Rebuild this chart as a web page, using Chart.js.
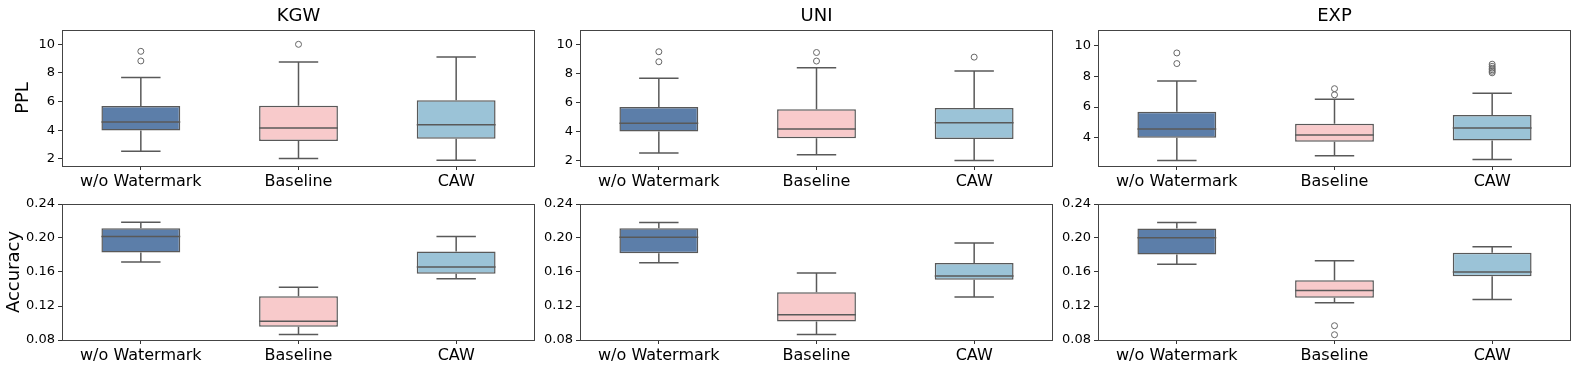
<!DOCTYPE html>
<html><head><meta charset="utf-8">
<script src="https://cdn.jsdelivr.net/npm/chart.js@4/dist/chart.umd.min.js"></script>
<style>
html,body{margin:0;padding:0;background:#fff;width:1578px;height:370px;overflow:hidden;position:relative;}
.cell{position:absolute;width:540px;height:192px;}
canvas{display:block;}
</style></head><body>
<div class="cell" style="left:0px;top:0px"><canvas id="c0" width="540" height="192"></canvas></div>
<div class="cell" style="left:518px;top:0px"><canvas id="c1" width="540" height="192"></canvas></div>
<div class="cell" style="left:1036px;top:0px"><canvas id="c2" width="540" height="192"></canvas></div>
<div class="cell" style="left:0px;top:174px"><canvas id="c3" width="540" height="192"></canvas></div>
<div class="cell" style="left:518px;top:174px"><canvas id="c4" width="540" height="192"></canvas></div>
<div class="cell" style="left:1036px;top:174px"><canvas id="c5" width="540" height="192"></canvas></div>
<script>
// ---- data ----
const categories = ['w/o Watermark', 'Baseline', 'CAW'];
const methods = ['KGW', 'UNI', 'EXP'];
// each entry: [whisker low, Q1, median, Q3, whisker high]
const pplKGW = [[2.53, 3.99, 4.57, 5.70, 7.69], [2.02, 3.25, 4.15, 5.72, 8.77], [1.91, 3.41, 4.38, 6.09, 9.12]];
const pplUNI = [[2.52, 4.01, 4.58, 5.69, 7.68], [2.40, 3.54, 4.17, 5.53, 8.40], [2.00, 3.48, 4.60, 5.62, 8.17]];
const pplEXP = [[2.52, 4.00, 4.58, 5.69, 7.69], [2.84, 3.74, 4.19, 4.92, 6.51], [2.59, 3.83, 4.64, 5.48, 6.89]];
const pplKGWOut = [[8.84, 9.51], [10.0], []];
const pplUNIOut = [[8.81, 9.50], [8.86, 9.45], [9.13]];
const pplEXPOut = [[8.82, 9.51], [6.79, 7.19], [8.22, 8.32, 8.42, 8.52, 8.64, 8.78]];
const accKGW = [[0.1717, 0.1830, 0.2018, 0.2115, 0.2185], [0.0866, 0.0956, 0.1022, 0.1315, 0.1420], [0.1522, 0.1580, 0.1659, 0.1842, 0.2018]];
const accUNI = [[0.1709, 0.1822, 0.2010, 0.2115, 0.2181], [0.0866, 0.1019, 0.1097, 0.1362, 0.1588], [0.1307, 0.1510, 0.1553, 0.1705, 0.1940]];
const accEXP = [[0.1690, 0.1807, 0.2002, 0.2111, 0.2181], [0.1237, 0.1296, 0.1381, 0.1502, 0.1733], [0.1276, 0.1549, 0.1600, 0.1826, 0.1897]];
const accKGWOut = [[], [], []];
const accUNIOut = [[], [], []];
const accEXPOut = [[], [0.0862, 0.0968], []];
const pplYMin = [1.505, 1.625, 2.17];
const pplYMax = 11;
const accYMin = 0.08;
const accYMax = 0.24;
const pplTicks = [2, 4, 6, 8, 10];
const accTicks = [0.08, 0.12, 0.16, 0.20, 0.24];

// ---- style ----
const FONT = 'DejaVu Sans';
const boxColors = ['#5c7ea9', '#f8cacb', '#9bc3d7'];
const lineColor = '#595959';

const boxPlugin = {
  id: 'boxExtras',
  afterDatasetsDraw(chart, args, opts) {
    const stats = opts.stats;
    if (!stats) return;
    const ctx = chart.ctx;
    const y = chart.scales.y;
    const meta = chart.getDatasetMeta(0);
    ctx.save();
    ctx.strokeStyle = lineColor;
    ctx.lineWidth = 1.5;
    stats.forEach((s, i) => {
      const el = meta.data[i];
      const cx = el.x;
      const w = el.width;
      const pLo = y.getPixelForValue(s[0]);
      const pQ1 = y.getPixelForValue(s[1]);
      const pMed = y.getPixelForValue(s[2]);
      const pQ3 = y.getPixelForValue(s[3]);
      const pHi = y.getPixelForValue(s[4]);
      ctx.beginPath();
      ctx.moveTo(cx, pQ3); ctx.lineTo(cx, pHi);
      ctx.moveTo(cx, pQ1); ctx.lineTo(cx, pLo);
      ctx.moveTo(cx - w / 4, pHi); ctx.lineTo(cx + w / 4, pHi);
      ctx.moveTo(cx - w / 4, pLo); ctx.lineTo(cx + w / 4, pLo);
      ctx.moveTo(cx - w / 2, pMed); ctx.lineTo(cx + w / 2, pMed);
      ctx.stroke();
    });
    ctx.restore();
  },
  afterDraw(chart, args, opts) {
    const ctx = chart.ctx;
    const a = chart.chartArea;
    ctx.save();
    ctx.strokeStyle = '#444';
    ctx.lineWidth = 1;
    ctx.strokeRect(Math.round(a.left) + 0.5, Math.round(a.top) + 0.5, Math.round(a.right - a.left) - 1, Math.round(a.bottom - a.top));
    if (opts.title) {
      ctx.fillStyle = '#000';
      ctx.font = '18px "' + FONT + '"';
      ctx.textAlign = 'center';
      ctx.textBaseline = 'alphabetic';
      ctx.fillText(opts.title, (a.left + a.right) / 2, 21);
    }
    ctx.restore();
  }
};

function makeChart(id, title, stats, outliers, yMin, yMax, ticks, fmt, yTitle, yTitlePad) {
  const outPts = [];
  outliers.forEach((arr, i) => arr.forEach(v => outPts.push({ x: categories[i], y: v })));
  new Chart(document.getElementById(id), {
    type: 'bar',
    data: {
      labels: categories,
      datasets: [
        {
          type: 'bar',
          data: stats.map(s => [s[1], s[3]]),
          backgroundColor: boxColors,
          borderColor: lineColor,
          borderWidth: 1.5,
          borderSkipped: false,
          barPercentage: 0.5,
          categoryPercentage: 1.0,
          order: 2
        },
        {
          type: 'line',
          data: outPts,
          showLine: false,
          pointRadius: 3,
          pointBorderWidth: 1,
          pointBorderColor: '#666',
          pointBackgroundColor: 'rgba(255,255,255,0)',
          order: 1
        }
      ]
    },
    options: {
      responsive: false,
      devicePixelRatio: 1,
      animation: false,
      layout: { padding: { top: 30, right: 5, left: 0, bottom: 0 } },
      plugins: {
        legend: { display: false },
        tooltip: { enabled: false },
        boxExtras: { stats: stats, title: title }
      },
      scales: {
        x: {
          afterFit: s => { s.height = 26; },
          ticks: { color: '#000', font: { family: FONT, size: 16 }, padding: 2, maxRotation: 0, autoSkip: false },
          grid: { display: true, drawOnChartArea: false, drawTicks: true, tickLength: 4, color: '#333', offset: false },
          border: { display: false }
        },
        y: {
          min: yMin, max: yMax,
          afterFit: s => { s.width = 62; },
          afterBuildTicks: s => { s.ticks = ticks.filter(v => v >= yMin - 1e-9 && v <= yMax + 1e-9).map(v => ({ value: v })); },
          ticks: { color: '#000', font: { family: FONT, size: 13 }, padding: 3, callback: v => fmt(v) },
          grid: { display: true, drawOnChartArea: false, drawTicks: true, tickLength: 4, color: '#333' },
          border: { display: false },
          title: { display: !!yTitle, text: yTitle || '', color: '#000', font: { family: FONT, size: 18 }, padding: { top: yTitlePad || 0, bottom: 0 } }
        }
      }
    },
    plugins: [boxPlugin]
  });
}

const pplFmt = v => String(v);
const accFmt = v => v.toFixed(2);
makeChart('c0', methods[0], pplKGW, pplKGWOut, pplYMin[0], pplYMax, pplTicks, pplFmt, 'PPL', 13);
makeChart('c1', methods[1], pplUNI, pplUNIOut, pplYMin[1], pplYMax, pplTicks, pplFmt, null);
makeChart('c2', methods[2], pplEXP, pplEXPOut, pplYMin[2], pplYMax, pplTicks, pplFmt, null);
makeChart('c3', null, accKGW, accKGWOut, accYMin, accYMax, accTicks, accFmt, 'Accuracy', 4);
makeChart('c4', null, accUNI, accUNIOut, accYMin, accYMax, accTicks, accFmt, null);
makeChart('c5', null, accEXP, accEXPOut, accYMin, accYMax, accTicks, accFmt, null);
</script>
</body></html>
